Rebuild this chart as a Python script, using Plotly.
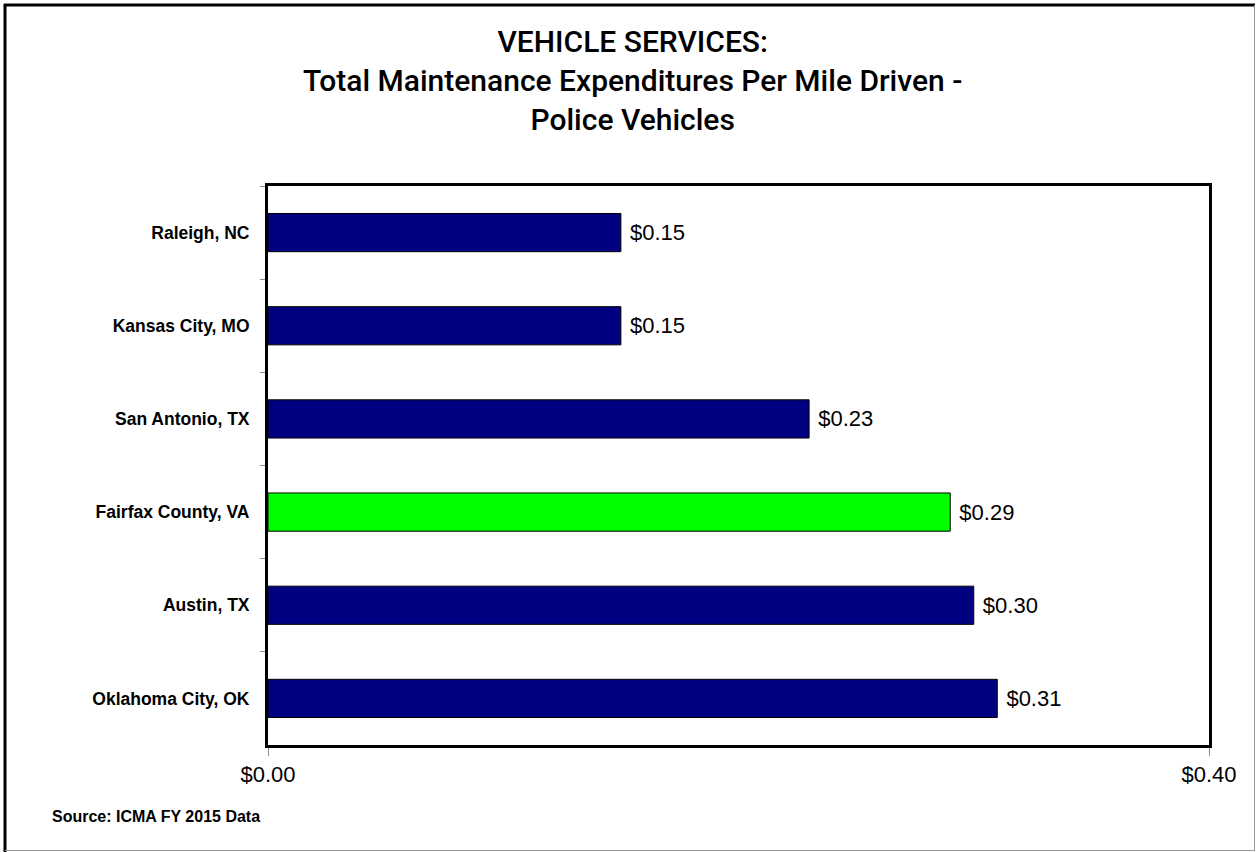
import plotly.graph_objects as go

cities = ["Raleigh, NC", "Kansas City, MO", "San Antonio, TX",
          "Fairfax County, VA", "Austin, TX", "Oklahoma City, OK"]
values = [0.15, 0.15, 0.23, 0.29, 0.30, 0.31]
colors = ["#000080", "#000080", "#000080", "#00FF00", "#000080", "#000080"]
x_ticks = [0.0, 0.40]
title_lines = ["VEHICLE SERVICES:", "Total Maintenance Expenditures Per Mile Driven -", "Police Vehicles"]
source_note = "Source: ICMA FY 2015 Data"

W, H = 1257, 852
L, R, T, B = 268, 48, 186, 107
pw, ph = W - L - R, H - T - B

def px(x):
    return (x - L) / pw

def py(y):
    return 1 - (y - T) / ph

cond = "Roboto, Liberation Sans Narrow, Arial Narrow, Arial, sans-serif"
sans = "Liberation Sans, Arial, sans-serif"

fig = go.Figure(go.Bar(
    x=values, y=cities, orientation="h",
    marker=dict(color=colors, line=dict(color="black", width=1)),
    width=0.41,
    text=[f"\u00a0${v:.2f}" for v in values], textposition="outside",
    textfont=dict(family=sans, size=22, color="black"),
    cliponaxis=False,
))

fig.update_layout(
    width=W, height=H,
    margin=dict(l=L, r=R, t=T, b=B),
    paper_bgcolor="white", plot_bgcolor="white",
    showlegend=False,
    font=dict(family=sans, color="black"),
    xaxis=dict(range=[0, 0.4], tickvals=x_ticks, tickformat="$.2f",
               showgrid=False, zeroline=False,
               showline=True, mirror=True, linewidth=3, linecolor="black",
               ticks="outside", ticklen=8, tickcolor="#888888", tickwidth=1,
               tickfont=dict(family=sans, size=22, color="black")),
    yaxis=dict(autorange="reversed", showgrid=False, zeroline=False,
               showline=True, mirror=True, linewidth=3, linecolor="black",
               ticks="outside", tickson="boundaries", ticklen=5, tickcolor="#888888", tickwidth=1,
               tickfont=dict(family=sans, size=17.5, color="black", weight="bold"),
               ticklabelstandoff=12),
)

# title (single multi-line text)
fig.add_annotation(text="<br>".join(title_lines), xref="paper", yref="paper", x=px(632), y=py(80),
                   xanchor="center", yanchor="middle", showarrow=False, align="center",
                   font=dict(family=cond, size=30, color="black", weight=500))

# outer frame
fig.add_shape(type="line", xref="paper", yref="paper", x0=px(5), x1=px(5), y0=py(4), y1=py(852),
              line=dict(color="black", width=3))
fig.add_shape(type="line", xref="paper", yref="paper", x0=px(4), x1=px(1255), y0=py(5), y1=py(5),
              line=dict(color="black", width=3))
fig.add_shape(type="line", xref="paper", yref="paper", x0=px(1254.5), x1=px(1254.5), y0=py(5), y1=py(850),
              line=dict(color="#999999", width=1))
fig.add_shape(type="line", xref="paper", yref="paper", x0=px(5), x1=px(1255), y0=py(850.5), y1=py(850.5),
              line=dict(color="#999999", width=1))

fig.add_annotation(text=source_note, xref="paper", yref="paper", x=px(50), y=py(816),
                   xanchor="left", yanchor="middle", showarrow=False,
                   font=dict(family=sans, size=16, color="black", weight="bold"))

fig.write_html("out.html", config={"displayModeBar": False},
               post_script="document.body.style.margin='0';")
